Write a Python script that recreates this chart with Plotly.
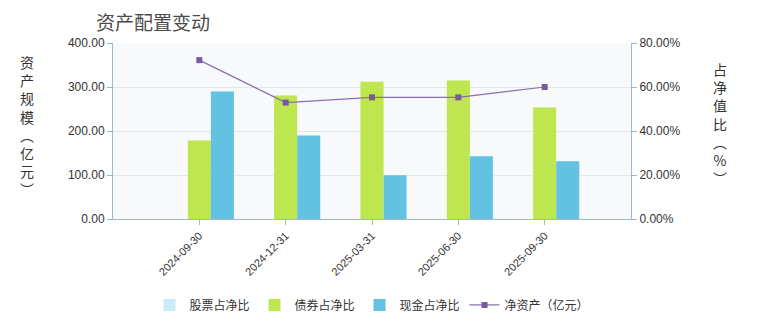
import plotly.graph_objects as go

dates = ["2024-09-30", "2024-12-31", "2025-03-31", "2025-06-30", "2025-09-30"]
stock_pct = [0, 0, 0, 0, 0]
bond_pct = [35.7, 56.1, 62.4, 62.9, 50.7]
cash_pct = [57.9, 38.0, 19.9, 28.5, 26.2]
net_assets = [361.0, 264.7, 276.5, 276.5, 300.0]

left_ticks = [0, 100, 200, 300, 400]
left_labels = ["0.00", "100.00", "200.00", "300.00", "400.00"]
right_ticks = [0, 20, 40, 60, 80]
right_labels = ["0.00%", "20.00%", "40.00%", "60.00%", "80.00%"]

font_fam = "Arial, 'Liberation Sans', 'Noto Sans CJK SC', sans-serif"
cjk = "'Noto Sans CJK SC', sans-serif"
axis_col = "#a0b8cc"
bw = 0.267

fig = go.Figure()
fig.add_trace(go.Bar(x=dates, y=stock_pct, name="股票占净比", yaxis="y",
                     marker=dict(color="#c9ecf8", line=dict(width=0)),
                     width=bw, offset=-1.5 * bw))
fig.add_trace(go.Bar(x=dates, y=bond_pct, name="债券占净比", yaxis="y",
                     marker=dict(color="#bde64f", line=dict(width=0)),
                     width=bw, offset=-0.5 * bw))
fig.add_trace(go.Bar(x=dates, y=cash_pct, name="现金占净比", yaxis="y",
                     marker=dict(color="#63c2e2", line=dict(width=0)),
                     width=bw, offset=0.5 * bw))
fig.add_trace(go.Scatter(x=dates, y=net_assets, name="净资产（亿元）", yaxis="y2",
                         mode="lines+markers",
                         line=dict(color="#8a6fb0", width=1.2),
                         marker=dict(symbol="square", size=6, color="#7a5a9e")))

pw, ph = 760 - 113 - 129, 330 - 43 - 110
def px(xp):
    return (xp - 113) / pw
def py(yp):
    return (330 - 110 - yp) / ph

fig.update_layout(
    width=760, height=330,
    margin=dict(l=113, r=129, t=43, b=110),
    paper_bgcolor="white", plot_bgcolor="#f8f9fb",
    barmode="overlay", hovermode=False,
    font=dict(family=font_fam, size=12, color="#333"),
    showlegend=True,
    legend=dict(orientation="h", x=0.5, xanchor="center", y=-0.48, yanchor="middle",
                font=dict(family=cjk, size=12, color="#333"),
                itemwidth=30, traceorder="normal", bgcolor="rgba(0,0,0,0)"),
    xaxis=dict(type="category", range=[-1, 5], tickangle=-45,
               showline=True, linecolor=axis_col, linewidth=1,
               ticks="outside", ticklen=5, tickcolor=axis_col,
               showgrid=False, tickfont=dict(size=11, color="#333")),
    yaxis=dict(side="right", range=[0, 80], tickvals=right_ticks, ticktext=right_labels,
               showline=True, linecolor=axis_col, ticks="outside", ticklen=5,
               tickcolor=axis_col, showgrid=True, gridcolor="#e3e7ee", zeroline=False,
               tickfont=dict(size=12, color="#333")),
    yaxis2=dict(side="left", overlaying="y", range=[0, 400], tickvals=left_ticks,
                ticktext=left_labels, showline=True, linecolor=axis_col,
                ticks="outside", ticklen=5, tickcolor=axis_col, showgrid=False,
                zeroline=False, tickfont=dict(size=12, color="#333")),
)

fig.add_annotation(text="资产配置变动", x=px(94), y=py(21), xref="paper", yref="paper",
                   xanchor="left", yanchor="middle", showarrow=False,
                   font=dict(family=cjk, size=19, color="#4a4a4a"))
fig.add_annotation(text="<br>".join(list("资产规模（亿元）")).replace("（", "︵").replace("）", "︶"),
                   x=px(27), y=py(126), xref="paper", yref="paper",
                   xanchor="center", yanchor="middle", showarrow=False,
                   font=dict(family=cjk, size=14, color="#333"))
fig.add_annotation(text="<br>".join(list("占净值比（%）")).replace("（", "︵").replace("）", "︶"),
                   x=px(720), y=py(124), xref="paper", yref="paper",
                   xanchor="center", yanchor="middle", showarrow=False,
                   font=dict(family=cjk, size=14, color="#333"))

fig.write_html("out.html")
